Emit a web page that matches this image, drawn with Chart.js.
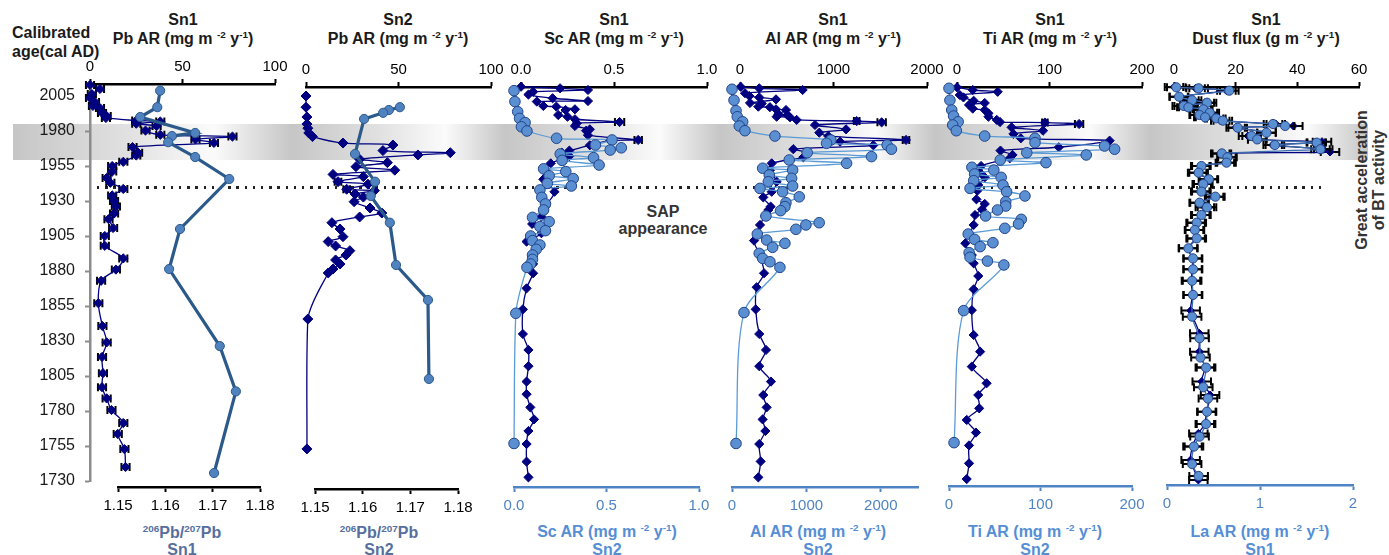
<!DOCTYPE html>
<html><head><meta charset="utf-8">
<script src="https://cdn.jsdelivr.net/npm/chart.js@4.4.1/dist/chart.umd.min.js"></script>
<style>
html,body{margin:0;padding:0;background:#fff;}
#stage{position:relative;width:1389px;height:555px;overflow:hidden;font-family:"Liberation Sans",Arial,sans-serif;}
canvas{position:absolute;}
.t{position:absolute;font-weight:bold;font-size:16px;white-space:nowrap;transform:translate(-50%,-50%);line-height:1;color:#1a1a1a;}
.b1{color:#566f9e;}
.b2{color:#558ed5;}
sup{font-size:0.62em;vertical-align:0.6em;line-height:0;}
.band{position:absolute;top:124px;height:36px;}
#dots{position:absolute;left:97px;top:186px;width:1230px;height:2.5px;background:repeating-linear-gradient(90deg,#222 0 2.5px,transparent 2.5px 8.2px);}
</style></head>
<body>
<div id="stage">
  <div class="band" style="left:13px;width:279px;background:linear-gradient(90deg,#c6c6c6 0%,#e0e0e0 40%,#fbfbfb 72%,#c6c6c6 100%);"></div>
  <div class="band" style="left:292px;width:213px;background:linear-gradient(90deg,#c6c6c6 0%,#e0e0e0 40%,#fbfbfb 72%,#c6c6c6 100%);"></div>
  <div class="band" style="left:505px;width:215px;background:linear-gradient(90deg,#c6c6c6 0%,#e0e0e0 40%,#fbfbfb 72%,#c6c6c6 100%);"></div>
  <div class="band" style="left:720px;width:215px;background:linear-gradient(90deg,#c6c6c6 0%,#e0e0e0 40%,#fbfbfb 72%,#c6c6c6 100%);"></div>
  <div class="band" style="left:935px;width:215px;background:linear-gradient(90deg,#c6c6c6 0%,#e0e0e0 40%,#fbfbfb 72%,#c6c6c6 100%);"></div>
  <div class="band" style="left:1150px;width:218px;background:linear-gradient(90deg,#c6c6c6 0%,#e0e0e0 40%,#fbfbfb 72%,#c6c6c6 100%);"></div>
  <div id="dots"></div>

  <div class="t" style="left:12px;top:33px;transform:translate(0,-50%);">Calibrated</div>
  <div class="t" style="left:12px;top:52px;transform:translate(0,-50%);">age(cal AD)</div>

  <div class="t" style="left:183px;top:20px;">Sn1</div>
  <div class="t" style="left:183px;top:39px;">Pb AR (mg m <sup>-2</sup> y<sup>-1</sup>)</div>
  <div class="t" style="left:398px;top:20px;">Sn2</div>
  <div class="t" style="left:398px;top:39px;">Pb AR (mg m <sup>-2</sup> y<sup>-1</sup>)</div>
  <div class="t" style="left:614px;top:20px;">Sn1</div>
  <div class="t" style="left:614px;top:39px;">Sc AR (mg m <sup>-2</sup> y<sup>-1</sup>)</div>
  <div class="t" style="left:833px;top:20px;">Sn1</div>
  <div class="t" style="left:833px;top:39px;">Al AR (mg m <sup>-2</sup> y<sup>-1</sup>)</div>
  <div class="t" style="left:1050px;top:20px;">Sn1</div>
  <div class="t" style="left:1050px;top:39px;">Ti AR (mg m <sup>-2</sup> y<sup>-1</sup>)</div>
  <div class="t" style="left:1266px;top:20px;">Sn1</div>
  <div class="t" style="left:1266px;top:39px;">Dust flux (g m <sup>-2</sup> y<sup>-1</sup>)</div>

  <div class="t b1" style="left:182px;top:533px;"><sup>206</sup>Pb/<sup>207</sup>Pb</div>
  <div class="t b1" style="left:182px;top:550px;">Sn1</div>
  <div class="t b1" style="left:379px;top:533px;"><sup>206</sup>Pb/<sup>207</sup>Pb</div>
  <div class="t b1" style="left:379px;top:550px;">Sn2</div>
  <div class="t b2" style="left:607px;top:532px;">Sc AR (mg m <sup>-2</sup> y<sup>-1</sup>)</div>
  <div class="t b2" style="left:607px;top:550px;">Sn2</div>
  <div class="t b2" style="left:818px;top:532px;">Al AR (mg m <sup>-2</sup> y<sup>-1</sup>)</div>
  <div class="t b2" style="left:818px;top:550px;">Sn2</div>
  <div class="t b2" style="left:1035px;top:532px;">Ti AR (mg m <sup>-2</sup> y<sup>-1</sup>)</div>
  <div class="t b2" style="left:1035px;top:550px;">Sn2</div>
  <div class="t b2" style="left:1260px;top:532px;">La AR (mg m <sup>-2</sup> y<sup>-1</sup>)</div>
  <div class="t b2" style="left:1260px;top:550px;">Sn1</div>

  <div class="t" style="left:663px;top:212px;color:#333;">SAP</div>
  <div class="t" style="left:663px;top:229px;color:#333;">appearance</div>
  <div class="t" style="left:1370px;top:180px;color:#333;text-align:center;line-height:17px;transform:translate(-50%,-50%) rotate(-90deg);">Great acceleration<br>of BT activity</div>
</div>
<script>
// ---------------- DATA ----------------
const yearTickLabels = ['2005','1980','1955','1930','1905','1880','1855','1830','1805','1780','1755','1730'];
const pbTopTicks = ['0','50','100'];
const ratioTicks = ['1.15','1.16','1.17','1.18'];
const scTicks = ['0.0','0.5','1.0'];
const alTopTicks = ['0','1000','2000'];
const alBotTicks = ['0','1000','2000'];
const tiTicks = ['0','100','200'];
const dustTicks = ['0','20','40','60'];
const laTicks = ['0','1','2'];

// [year, value]
const pbSn1 = [[2012.9,0],[2010,5.4],[2006.4,1],[2003.6,0],[2000.7,2.7],[1997.9,1.6],[1996.4,5.4],[1992.9,6.5],[1990.7,9],[1989.3,8.6],[1987.5,25],[1986.8,38],[1985.2,25],[1983.5,36],[1980.3,30],[1977.3,38],[1976,77],[1974,57],[1971.5,67],[1968.5,23],[1964.5,26],[1962.5,25],[1958,18],[1955,12],[1951,12],[1946.5,9],[1943,11],[1938.6,18],[1934,12],[1930,13],[1926,14],[1921,13],[1917,10],[1910.7,12.5],[1905,8],[1898,8],[1889,18],[1881,14],[1873,6],[1857,4.5],[1840.7,6.7],[1829,9],[1818.6,6.5],[1807,7],[1797,6.5],[1789,9],[1780.7,11.6],[1771.4,18],[1763.6,15],[1752.8,18.6],[1740,19.2]];
const pbSn1Err = 2.2;
const ratioSn1 = [[2008.8,1.1589],[1997,1.1583],[1990,1.1547],[1978.6,1.1663],[1976.4,1.1614],[1972,1.1606],[1961.4,1.1663],[1945.7,1.1735],[1910,1.1631],[1881.4,1.1608],[1826.4,1.1715],[1794,1.1749],[1735.7,1.1703]];

const pbSn2 = [[2005,0],[1997,0],[1990,0.5],[1985,0.5],[1982,1],[1978.6,1.5],[1976,3.5],[1971.4,20],[1970,47],[1966,41.6],[1964.5,78],[1962.9,60.5],[1959.8,29],[1957.4,44],[1954.5,27],[1952,48],[1949,14.6],[1947.4,31],[1943.8,17.3],[1942,33.5],[1938.4,22],[1937.4,37],[1935,26.5],[1932.8,31],[1929.5,26],[1925,34.6],[1921.4,41],[1918.6,29],[1914.5,14],[1910,18.4],[1904.5,20],[1901,12],[1897.9,16],[1894.5,23.7],[1891.4,21.6],[1887.9,16],[1885,18.4],[1881.4,14.6],[1878.6,12],[1845.7,1],[1752.9,0.5]];
const pbSn2Err = [[1943.8,1.8],[1938.4,1.8]];
const ratioSn2 = [[1997,1.1678],[1995,1.1655],[1993,1.1643],[1988.6,1.1603],[1963.6,1.1584],[1943.8,1.1626],[1933.6,1.1617],[1914.5,1.1657],[1884.3,1.1670],[1859.3,1.1737],[1802.9,1.1739]];

const scSn1 = [[2011.6,0.0],[2010.5,0.21],[2009.3,0.36],[2008,0.065],[2006,0.04],[2003.4,0.17],[2001.4,0.36],[2001,0.085],[1997.9,0.12],[1997.4,0.19],[1995.5,0.29],[1995,0.24],[1991.4,0.20],[1990.2,0.25],[1988.4,0.29],[1986.4,0.53],[1985.5,0.30],[1983.6,0.29],[1981.2,0.37],[1980.2,0.35],[1977,0.36],[1973.6,0.63],[1973.1,0.48],[1969.8,0.37],[1966,0.26],[1964.5,0.22],[1962,0.26],[1956.9,0.16],[1952,0.13],[1945.5,0.12],[1936.6,0.18],[1926,0.13],[1918.8,0.11],[1913.6,0.06],[1907,0.11],[1901,0.03],[1897.4,0.10],[1890,0.06],[1885,0.065],[1878.4,0.065],[1867.6,0.03],[1852.6,0.01],[1835,0.01],[1823.6,0.04],[1812,0.04],[1801,0.03],[1792,0.03],[1782.6,0.05],[1774,0.07],[1765.7,0.04],[1756.4,0.03],[1743.8,0.03],[1732.6,0.04]];
const scSn1Err = [[1986.4,0.025],[1973.6,0.02]];
const scSn2 = [[2008.8,0.0],[2001,0.005],[1993.8,0.02],[1989,0.03],[1986,0.06],[1983,0.04],[1980,0.07],[1974.8,0.23],[1973.6,0.53],[1970,0.44],[1968,0.58],[1966.4,0.52],[1963.6,0.25],[1961,0.43],[1959,0.26],[1955.7,0.46],[1953,0.16],[1951,0.28],[1948,0.19],[1946,0.32],[1942.6,0.18],[1940.7,0.31],[1937.9,0.14],[1932.6,0.15],[1927.9,0.17],[1923.6,0.16],[1918.3,0.10],[1915.2,0.19],[1911.7,0.14],[1908.8,0.17],[1905,0.09],[1901.7,0.10],[1898.6,0.14],[1895.5,0.12],[1891.4,0.10],[1888.3,0.10],[1885,0.09],[1882.6,0.07],[1849.8,0.01],[1756.8,0.0]];

const alSn1 = [[2011.6,7],[2010.5,206],[2009.3,670],[2007,53],[2005,100],[2004,206],[2002.6,385],[2000,107],[1999.6,232],[1997.4,196],[1997,320],[1995.5,385],[1995,492],[1992,410],[1991.4,506],[1990.2,392],[1989.8,535],[1987.9,606],[1987.1,1248],[1986.2,1515],[1984.3,802],[1981.2,1134],[1978.8,848],[1976.4,944],[1973.6,1775],[1972.4,1070],[1969.8,1426],[1967,570],[1964.5,713],[1961.2,677],[1956.9,339],[1952,320],[1943.8,392],[1936.6,339],[1932.6,249],[1926,328],[1923.6,303],[1919.3,267],[1912.9,214],[1901.7,150],[1892,206],[1878.4,257],[1868.4,178],[1852.6,168],[1835,206],[1823.6,278],[1812,206],[1801,331],[1791.4,249],[1782.6,285],[1774,242],[1765.7,271],[1756.4,206],[1744,221],[1732.6,196]];
const alSn1Err = [[1987.1,30],[1986.2,45],[1973.6,35]];
const alSn2 = [[2009.8,0],[2002,27],[1994.5,54],[1990.2,71],[1986.6,143],[1983.6,98],[1980.2,174],[1976.4,577],[1973.6,1329],[1971.2,1271],[1970,2085],[1967,2143],[1964.5,1011],[1961.7,1875],[1959.3,769],[1956.9,1540],[1953.4,412],[1952.1,815],[1948.6,501],[1946.2,801],[1943.8,488],[1940.7,815],[1939,376],[1936.6,680],[1933,904],[1928.8,725],[1926,711],[1923.1,653],[1919.3,456],[1914.5,1172],[1912.9,993],[1909.8,859],[1906.4,340],[1902.1,466],[1899.8,711],[1896.9,546],[1892.6,366],[1889,412],[1886.6,510],[1882.6,644],[1850.3,161],[1756.8,54]];

const tiSn1 = [[2011.2,0],[2009.3,17],[2008,44],[2005.7,3],[2004,7],[2001.6,18],[2000,30],[1998.6,13],[1996,17],[1995,30],[1992.6,34],[1990.2,34],[1987.9,43],[1986.4,46.5],[1986,95],[1985,132],[1982.6,59],[1980.2,93],[1977.9,61],[1974.8,69],[1973.1,165],[1968.4,110],[1966,47],[1962.9,60],[1960.5,57],[1955,26],[1950.2,25],[1946.9,30],[1941.4,23],[1937.4,22],[1931.2,21],[1927.9,30],[1924,27],[1920,19.5],[1912.9,18],[1899.8,9],[1891.4,16],[1885.5,18],[1876.4,23],[1866.9,18],[1852,16],[1834.3,18],[1822.4,25],[1811.7,16],[1799.8,32],[1791.4,23],[1781.9,24],[1773.6,10.5],[1764.6,20.5],[1755.4,13],[1742.6,13],[1731.4,10.5]];
const tiSn1Err = [[1985,4.5],[1986,3]];
const tiSn2 = [[2010.5,0],[2002,1],[1995,3],[1990.7,5],[1986.6,10],[1984.3,4],[1980.2,8],[1976.4,39],[1974.8,94],[1971.7,94],[1969.3,170],[1967,181],[1964.5,85],[1962.9,150],[1959.3,56],[1957.4,106],[1954.1,25],[1952.1,49],[1949.3,28],[1946.9,57],[1944.5,27],[1941.4,59],[1939,23],[1936.6,63],[1933.6,83],[1929.5,62],[1926.4,62],[1923.6,53],[1919.3,40],[1916.9,79],[1913.6,76],[1910.5,61],[1906.4,21],[1902.6,28],[1900.2,48],[1897.4,34],[1893.1,22],[1889.8,23],[1887.1,42],[1884.3,60],[1851.7,16],[1757.4,5.5]];

const dustSn1 = [[2011.5,0],[2010.5,7],[2008.8,17],[2004.5,1.5],[2002,5],[2000.2,10],[1997.9,2.5],[1996.9,4],[1995.5,9],[1993.1,11],[1991.4,8],[1989.8,9.5],[1989,13],[1987.4,15],[1985,33],[1983.6,38.7],[1982.4,20],[1978.8,30],[1976.4,24],[1974,27],[1972.4,48],[1971.7,46],[1970,32],[1967,48.4],[1965,50.6],[1964,15],[1961.2,17],[1957.4,16.5],[1955,8.5],[1950.2,7.5],[1945.5,11],[1942.1,9],[1936.7,8.5],[1933.1,13],[1928.8,8],[1925.5,10],[1920,8.5],[1914.5,7],[1909.3,6.5],[1903.3,7],[1896.2,4.5],[1889,6],[1881.2,6],[1873,5.5],[1862.9,6],[1851.7,5.4],[1835.5,8.2],[1822.4,8.2],[1811,10],[1801,9],[1791.4,11.7],[1779.5,10.5],[1770.7,10],[1764,7.9],[1754.6,6],[1745,5.4],[1730.7,7.9]];
const dustSn1Err = 3;
const laSn1 = [[2011.2,0.10],[2010.5,0.34],[2008.8,0.67],[2004.5,0.13],[2002,0.27],[2000.2,0.43],[1997.9,0.18],[1996.9,0.23],[1995.5,0.39],[1993.1,0.46],[1991.4,0.35],[1989.8,0.41],[1989,0.53],[1987.4,0.60],[1985,1.14],[1983.6,1.27],[1982.4,0.76],[1978.8,1.07],[1976.4,0.91],[1974,0.97],[1971.7,1.61],[1970,1.16],[1967,1.65],[1964,0.59],[1961.2,0.65],[1957.4,0.64],[1955,0.37],[1950.2,0.34],[1945.5,0.45],[1942.1,0.39],[1936.7,0.37],[1933.1,0.52],[1928.8,0.35],[1925.5,0.43],[1920,0.37],[1914.5,0.32],[1909.3,0.30],[1903.3,0.32],[1896.2,0.23],[1889,0.28],[1881.2,0.28],[1873,0.27],[1862.9,0.28],[1847.4,0.27],[1832,0.35],[1818.2,0.36],[1811,0.42],[1797,0.39],[1788.9,0.44],[1779.5,0.43],[1770.7,0.42],[1761.7,0.35],[1754.6,0.29],[1742.1,0.27],[1733.6,0.34]];
const laSn1Err = 0.1;

// ---------------- RENDERING ----------------
const FONT = '"Liberation Sans", Arial, sans-serif';
const stage = document.getElementById('stage');
const PX_PER_YEAR = 1.4, REF_PX = 96, REF_YEAR = 2005;
const yearAtPx = px => REF_YEAR + (REF_PX - px) / PX_PER_YEAR;

const errorBarPlugin = {
  id: 'errbars',
  beforeDatasetsDraw(chart) {
    const ctx = chart.ctx, xs = chart.scales.x, ys = chart.scales.y;
    chart.data.datasets.forEach(ds => {
      if (ds.errAll === undefined && !ds.errList) return;
      ctx.save();
      ctx.strokeStyle = '#000'; ctx.lineWidth = 2;
      ds.data.forEach(p => {
        let e = ds.errAll || 0;
        if (ds.errList) { const m = ds.errList.find(q => q[0] === p.y); e = m ? m[1] : 0; }
        if (!e) return;
        const x1 = xs.getPixelForValue(p.x - e), x2 = xs.getPixelForValue(p.x + e), y = ys.getPixelForValue(p.y);
        ctx.beginPath();
        ctx.moveTo(x1, y); ctx.lineTo(x2, y);
        ctx.moveTo(x1, y - 4); ctx.lineTo(x1, y + 4);
        ctx.moveTo(x2, y - 4); ctx.lineTo(x2, y + 4);
        ctx.stroke();
      });
      ctx.restore();
    });
  }
};

const pts = arr => arr.map(([y, v]) => ({x: v, y: y}));

function navy(arr, extra) {
  return Object.assign({
    data: pts(arr), showLine: true, clip: false, tension: 0.3,
    borderColor: '#000080', borderWidth: 1.3,
    pointStyle: 'rectRot', pointRadius: 4.6, pointBackgroundColor: '#000080', pointBorderColor: '#000080', pointBorderWidth: 1
  }, extra || {});
}
function ratioCircles(arr) {
  return {
    data: pts(arr), showLine: true, clip: false, tension: 0,
    borderColor: '#2b5a8a', borderWidth: 3.2,
    pointStyle: 'circle', pointRadius: 4.6, pointBackgroundColor: '#4f82bf', pointBorderColor: '#2b5a8a', pointBorderWidth: 1
  };
}
function lightCircles(arr, extra) {
  return Object.assign({
    data: pts(arr), showLine: true, clip: false, tension: 0.3,
    borderColor: '#5b9bd5', borderWidth: 1.3,
    pointStyle: 'circle', pointRadius: 5.3, pointBackgroundColor: '#5a8fd2', pointBorderColor: '#23458a', pointBorderWidth: 1
  }, extra || {});
}

function makeChart(o) {
  const PL = 30, PR = 30, PT = 12, PB = 26, HX = 30;
  const WY = o.yAxis ? 90 : 0;
  const w = o.R - o.L + PL + PR + WY;
  const h = o.B - o.T + HX + PT + PB;
  const left = o.L - PL - WY;
  const top = o.pos === 'top' ? o.T - HX - PT : o.T - PT;
  const cv = document.createElement('canvas');
  cv.width = w; cv.height = h;
  cv.style.left = left + 'px'; cv.style.top = top + 'px';
  cv.style.width = w + 'px'; cv.style.height = h + 'px';
  stage.appendChild(cv);
  const tickVals = o.tickLabels.map(Number);
  const yearVals = yearTickLabels.map(Number);
  new Chart(cv, {
    type: 'scatter',
    data: {datasets: o.datasets},
    plugins: [errorBarPlugin],
    options: {
      responsive: false, animation: false, devicePixelRatio: 1, events: [],
      layout: {padding: {left: PL, right: PR, top: PT, bottom: PB}},
      plugins: {legend: {display: false}, tooltip: {enabled: false}},
      scales: {
        x: {
          type: 'linear', position: o.pos, min: o.min, max: o.max, bounds: 'data',
          afterBuildTicks: s => { s.ticks = tickVals.map(v => ({value: v})); },
          afterFit: s => { s.height = HX; },
          grid: {drawOnChartArea: false, drawTicks: true, tickLength: 5, tickWidth: 2, color: o.axisColor},
          border: {display: true, color: o.axisColor, width: 2.6},
          ticks: {color: o.labelColor, font: {family: FONT, size: 15}, padding: o.pos === 'top' ? 3 : 5,
                  maxRotation: 0, autoSkip: false, callback: (v, i) => o.tickLabels[i]}
        },
        y: {
          type: 'linear', position: 'left', display: !!o.yAxis, bounds: 'data',
          min: yearAtPx(o.B), max: yearAtPx(o.T),
          afterBuildTicks: s => { s.ticks = yearVals.map(v => ({value: v})); },
          afterFit: s => { s.width = WY; },
          grid: {drawOnChartArea: false, drawTicks: true, tickLength: 5, tickWidth: 2, color: '#8c8c8c'},
          border: {display: true, color: '#8c8c8c', width: 2.5},
          ticks: {color: '#1a1a1a', font: {family: FONT, size: 16}, padding: 10, autoSkip: false,
                  callback: (v, i) => yearTickLabels[i]}
        }
      }
    }
  });
}

const BLK = '#000', BLUE = '#4f84c4';
// Panel 1
makeChart({L: 90, R: 275, T: 84, B: 481, pos: 'top', min: 0, max: 100, tickLabels: pbTopTicks, axisColor: BLK, labelColor: BLK, yAxis: true,
  datasets: [navy(pbSn1, {errAll: pbSn1Err})]});
makeChart({L: 118, R: 260, T: 87, B: 487, pos: 'bottom', min: 1.15, max: 1.18, tickLabels: ratioTicks, axisColor: BLK, labelColor: BLK,
  datasets: [ratioCircles(ratioSn1)]});
// Panel 2
makeChart({L: 306, R: 491, T: 87, B: 481, pos: 'top', min: 0, max: 100, tickLabels: pbTopTicks, axisColor: BLK, labelColor: BLK,
  datasets: [navy(pbSn2, {errList: pbSn2Err, pointRadius: 5})]});
makeChart({L: 315, R: 458, T: 87, B: 489, pos: 'bottom', min: 1.15, max: 1.18, tickLabels: ratioTicks, axisColor: BLK, labelColor: BLK,
  datasets: [ratioCircles(ratioSn2)]});
// Panel 3 Sc
makeChart({L: 521, R: 707, T: 87, B: 481, pos: 'top', min: 0, max: 1, tickLabels: scTicks, axisColor: BLK, labelColor: BLK,
  datasets: [navy(scSn1, {errList: scSn1Err})]});
makeChart({L: 514, R: 699, T: 87, B: 487, pos: 'bottom', min: 0, max: 1, tickLabels: scTicks, axisColor: BLUE, labelColor: BLUE,
  datasets: [lightCircles(scSn2)]});
// Panel 4 Al
makeChart({L: 740, R: 927, T: 87, B: 481, pos: 'top', min: 0, max: 2000, tickLabels: alTopTicks, axisColor: BLK, labelColor: BLK,
  datasets: [navy(alSn1, {errList: alSn1Err})]});
makeChart({L: 732, R: 918, T: 87, B: 487, pos: 'bottom', min: 0, max: 2500, tickLabels: alBotTicks, axisColor: BLUE, labelColor: BLUE,
  datasets: [lightCircles(alSn2)]});
// Panel 5 Ti
makeChart({L: 957, R: 1142, T: 87, B: 481, pos: 'top', min: 0, max: 200, tickLabels: tiTicks, axisColor: BLK, labelColor: BLK,
  datasets: [navy(tiSn1, {errList: tiSn1Err})]});
makeChart({L: 949, R: 1132, T: 87, B: 486, pos: 'bottom', min: 0, max: 200, tickLabels: tiTicks, axisColor: BLUE, labelColor: BLUE,
  datasets: [lightCircles(tiSn2)]});
// Panel 6 Dust / La
makeChart({L: 1174, R: 1359, T: 87, B: 481, pos: 'top', min: 0, max: 60, tickLabels: dustTicks, axisColor: BLK, labelColor: BLK,
  datasets: [navy(dustSn1, {errAll: dustSn1Err, pointRadius: 4})]});
makeChart({L: 1167, R: 1353, T: 87, B: 485, pos: 'bottom', min: 0, max: 2, tickLabels: laTicks, axisColor: BLUE, labelColor: BLUE,
  datasets: [lightCircles(laSn1, {errAll: laSn1Err, pointRadius: 4.6, borderColor: '#3d6fb0'})]});
</script>
</body></html>
